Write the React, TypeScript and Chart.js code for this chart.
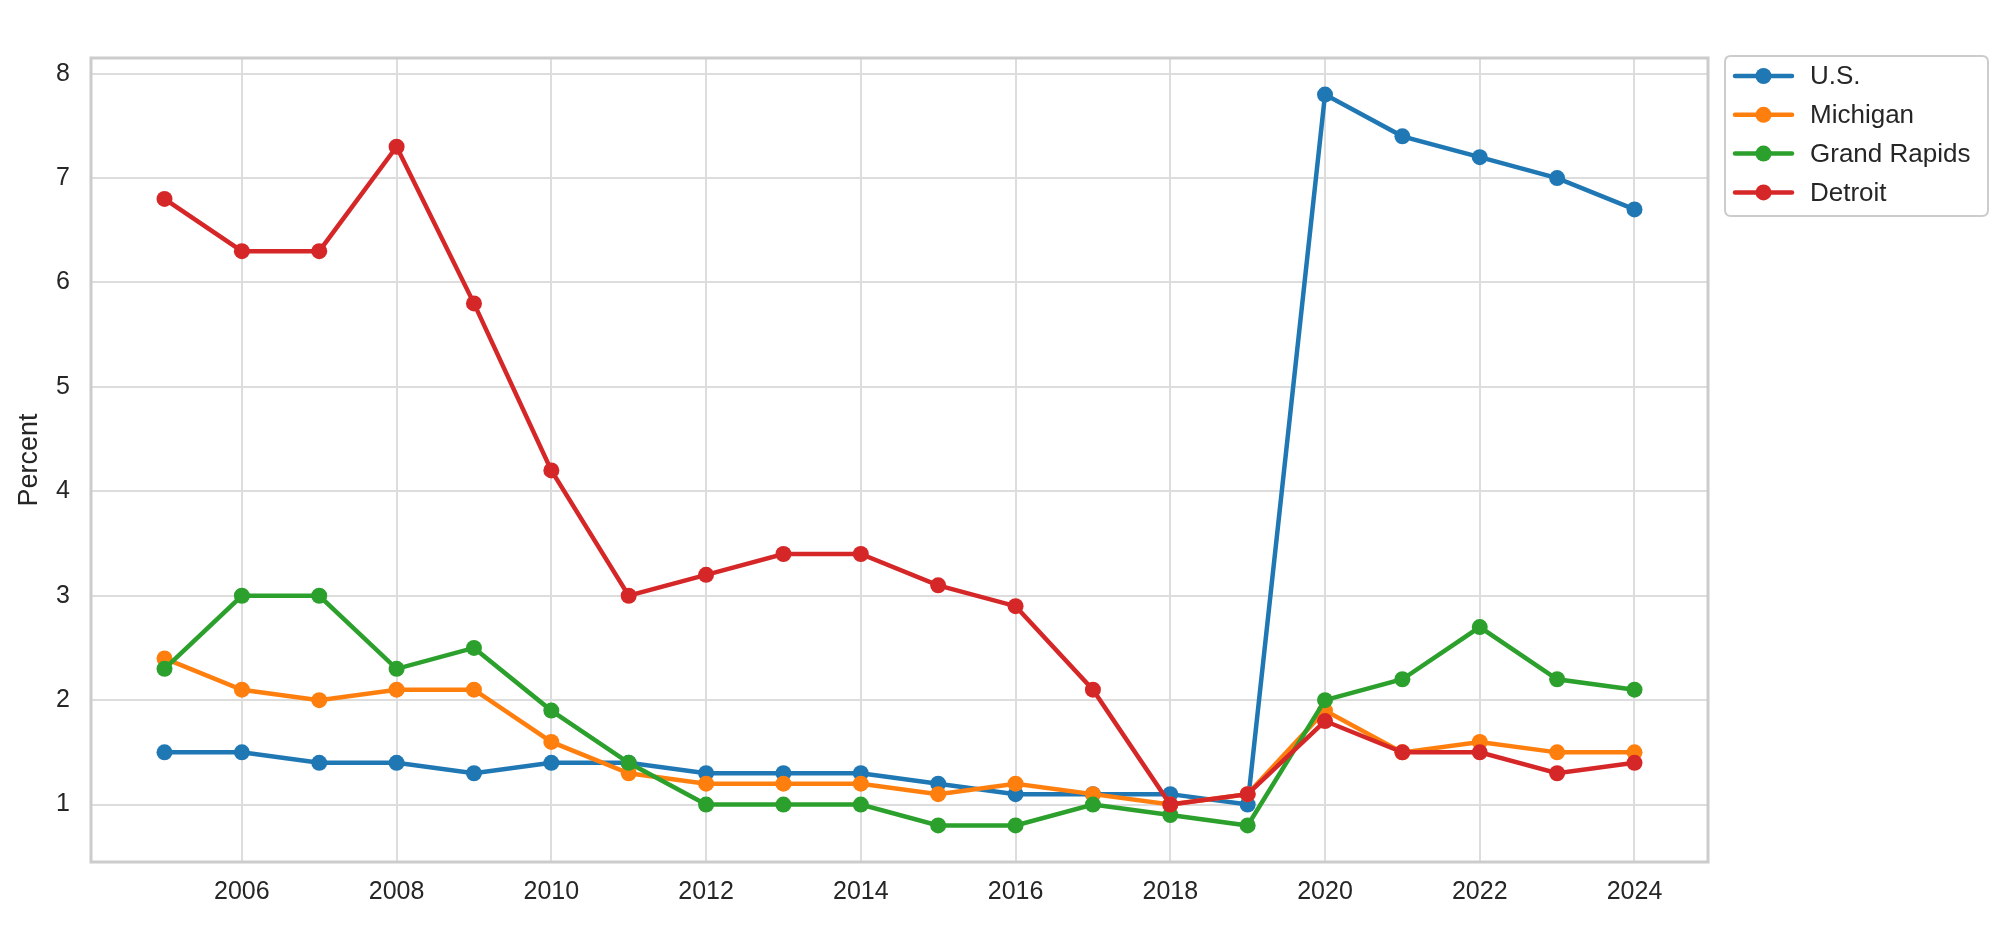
import { useEffect, useRef } from 'react';
import { Chart, registerables } from 'chart.js';

Chart.register(...registerables);

const years = [2005, 2006, 2007, 2008, 2009, 2010, 2011, 2012, 2013, 2014, 2015, 2016, 2017, 2018, 2019, 2020, 2021, 2022, 2023, 2024];
const usValues = [1.5, 1.5, 1.4, 1.4, 1.3, 1.4, 1.4, 1.3, 1.3, 1.3, 1.2, 1.1, 1.1, 1.1, 1.0, 7.8, 7.4, 7.2, 7.0, 6.7];
const michiganValues = [2.4, 2.1, 2.0, 2.1, 2.1, 1.6, 1.3, 1.2, 1.2, 1.2, 1.1, 1.2, 1.1, 1.0, 1.1, 1.9, 1.5, 1.6, 1.5, 1.5];
const grandRapidsValues = [2.3, 3.0, 3.0, 2.3, 2.5, 1.9, 1.4, 1.0, 1.0, 1.0, 0.8, 0.8, 1.0, 0.9, 0.8, 2.0, 2.2, 2.7, 2.2, 2.1];
const detroitValues = [6.8, 6.3, 6.3, 7.3, 5.8, 4.2, 3.0, 3.2, 3.4, 3.4, 3.1, 2.9, 2.1, 1.0, 1.1, 1.8, 1.5, 1.5, 1.3, 1.4];

const seriesLabels = ['U.S.', 'Michigan', 'Grand Rapids', 'Detroit'];
const seriesValues = [usValues, michiganValues, grandRapidsValues, detroitValues];
const seriesColors = ['#1f77b4', '#ff7f0e', '#2ca02c', '#d62728'];

const xTickValues = [2006, 2008, 2010, 2012, 2014, 2016, 2018, 2020, 2022, 2024];
const yTickValues = [1, 2, 3, 4, 5, 6, 7, 8];
const yAxisTitle = 'Percent';

const FONT = "'Liberation Sans', Arial, sans-serif";
const TEXT_COLOR = '#262626';

const framePlugin = {
  id: 'framePlugin',
  beforeDatasetsDraw(chart: any) {
    const { ctx, chartArea } = chart;
    ctx.save();
    ctx.strokeStyle = '#cccccc';
    ctx.lineWidth = 3;
    ctx.strokeRect(chartArea.left, chartArea.top, chartArea.right - chartArea.left, chartArea.bottom - chartArea.top);
    ctx.restore();
  },
};

const legendPlugin = {
  id: 'boxLegend',
  afterDraw(chart: any) {
    const { ctx } = chart;
    const boxX = 1725;
    const boxY = 56;
    const boxW = 263;
    const boxH = 160;
    const r = 6;
    ctx.save();
    ctx.beginPath();
    ctx.moveTo(boxX + r, boxY);
    ctx.lineTo(boxX + boxW - r, boxY);
    ctx.quadraticCurveTo(boxX + boxW, boxY, boxX + boxW, boxY + r);
    ctx.lineTo(boxX + boxW, boxY + boxH - r);
    ctx.quadraticCurveTo(boxX + boxW, boxY + boxH, boxX + boxW - r, boxY + boxH);
    ctx.lineTo(boxX + r, boxY + boxH);
    ctx.quadraticCurveTo(boxX, boxY + boxH, boxX, boxY + boxH - r);
    ctx.lineTo(boxX, boxY + r);
    ctx.quadraticCurveTo(boxX, boxY, boxX + r, boxY);
    ctx.closePath();
    ctx.fillStyle = 'rgba(255,255,255,0.8)';
    ctx.fill();
    ctx.strokeStyle = '#cccccc';
    ctx.lineWidth = 2;
    ctx.stroke();

    const datasets = chart.data.datasets;
    datasets.forEach((ds: any, i: number) => {
      const cy = boxY + 20 + i * 38.8;
      ctx.strokeStyle = ds.borderColor;
      ctx.lineWidth = 4.5;
      ctx.lineCap = 'round';
      ctx.beginPath();
      ctx.moveTo(1735, cy);
      ctx.lineTo(1792, cy);
      ctx.stroke();
      ctx.fillStyle = ds.borderColor;
      ctx.beginPath();
      ctx.arc(1763.5, cy, 8, 0, Math.PI * 2);
      ctx.fill();
      ctx.fillStyle = TEXT_COLOR;
      ctx.font = `26px ${FONT}`;
      ctx.textAlign = 'left';
      ctx.textBaseline = 'middle';
      ctx.fillText(ds.label, 1810, cy + 1);
    });
    ctx.restore();
  },
};

export default function App() {
  const canvasRef = useRef<HTMLCanvasElement | null>(null);

  useEffect(() => {
    if (!canvasRef.current) return;
    const datasets = seriesLabels.map((label, si) => ({
      label,
      data: years.map((yr, i) => ({ x: yr, y: seriesValues[si][i] })),
      borderColor: seriesColors[si],
      backgroundColor: seriesColors[si],
      pointBackgroundColor: seriesColors[si],
      pointBorderWidth: 0,
      pointRadius: 8,
      borderWidth: 4.5,
      tension: 0,
      fill: false,
      order: seriesLabels.length - si,
    }));

    const chart = new Chart(canvasRef.current, {
      type: 'line',
      data: { datasets },
      plugins: [framePlugin, legendPlugin],
      options: {
        animation: false,
        responsive: false,
        maintainAspectRatio: false,
        devicePixelRatio: 1,
        layout: {
          autoPadding: false,
          padding: { left: 0, right: 292, top: 58, bottom: 0 },
        },
        plugins: {
          legend: { display: false },
          tooltip: { enabled: false },
        },
        scales: {
          x: {
            type: 'linear',
            min: 2004.05,
            max: 2024.95,
            afterBuildTicks: (scale: any) => {
              scale.ticks = xTickValues.map((v) => ({ value: v }));
            },
            afterFit: (scale: any) => {
              scale.height = 66;
            },
            ticks: {
              callback: (v: any) => String(v),
              font: { family: FONT, size: 25 },
              color: TEXT_COLOR,
              padding: 15,
              maxRotation: 0,
              autoSkip: false,
            },
            grid: { color: '#dddddd', lineWidth: 2, drawTicks: false },
            border: { display: false },
          },
          y: {
            type: 'linear',
            min: 0.45,
            max: 8.15,
            afterBuildTicks: (scale: any) => {
              scale.ticks = yTickValues.map((v) => ({ value: v }));
            },
            afterFit: (scale: any) => {
              scale.width = 91;
            },
            ticks: {
              callback: (v: any) => String(v),
              font: { family: FONT, size: 25 },
              color: TEXT_COLOR,
              padding: 21,
              autoSkip: false,
            },
            grid: { color: '#dddddd', lineWidth: 2, drawTicks: false },
            border: { display: false },
            title: {
              display: true,
              text: yAxisTitle,
              font: { family: FONT, size: 27 },
              color: TEXT_COLOR,
              padding: { top: 13, bottom: 0 },
            },
          },
        },
      },
    });
    return () => chart.destroy();
  }, []);

  return (
    <div style={{ position: 'absolute', left: 0, top: 0, width: 2000, height: 928, background: '#ffffff' }}>
      <canvas ref={canvasRef} width={2000} height={928} style={{ width: 2000, height: 928, display: 'block' }} />
    </div>
  );
}
